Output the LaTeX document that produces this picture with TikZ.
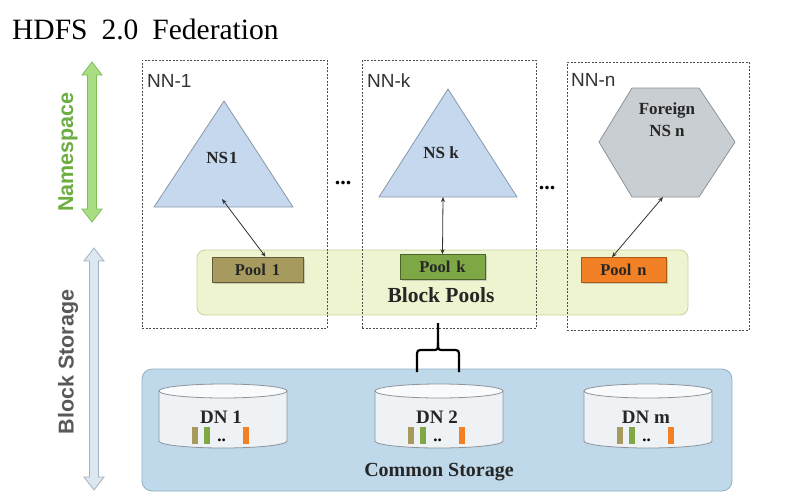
\documentclass[tikz,border=0pt]{standalone}
\usepackage{fontspec}
\setmainfont{Liberation Serif}
\setsansfont{Liberation Sans}
\usetikzlibrary{arrows.meta,shadows}

\definecolor{nsblue}{HTML}{C5D8EE}
\definecolor{nsedge}{HTML}{8797AA}
\definecolor{hexgray}{HTML}{C9CED3}
\definecolor{hexedge}{HTML}{8E9398}
\definecolor{poolbg}{HTML}{EEF4CF}
\definecolor{pooledge}{HTML}{C9D59E}
\definecolor{poolbrown}{HTML}{A69A5E}
\definecolor{poolgreen}{HTML}{7EA745}
\definecolor{poolorange}{HTML}{F28024}
\definecolor{storebg}{HTML}{BFD9EA}
\definecolor{storeedge}{HTML}{8FAFC4}
\definecolor{cylfill}{HTML}{EEF2F5}
\definecolor{cyledge}{HTML}{8D949B}
\definecolor{nsarrowfill}{HTML}{A9DE84}
\definecolor{nsarrowedge}{HTML}{7DBF58}
\definecolor{nstext}{HTML}{6DAE42}
\definecolor{bsarrowfill}{HTML}{DCE7F0}
\definecolor{bsarrowedge}{HTML}{A3B3C3}

\begin{document}
\begin{tikzpicture}[x=1pt,y=-1pt,
    nnbox/.style={draw=black!70, dash pattern=on 2pt off 1.5pt, line width=0.6pt},
    nnlabel/.style={font=\sffamily\fontsize{19}{20}\selectfont, text=black!80, anchor=base west, inner sep=0pt},
    nslabel/.style={font=\bfseries\fontsize{17}{19}\selectfont, text=black!85, align=center, inner sep=0pt},
    poolbox/.style={minimum width=88pt, minimum height=25pt, inner sep=0pt, line width=0.6pt, drop shadow={shadow xshift=1.5pt, shadow yshift=-1.5pt, opacity=0.35},
      font=\bfseries\fontsize{16.5}{17}\selectfont, text=black!85},
    nsarrow/.style={{Stealth[length=5pt,width=4pt]}-{Stealth[length=5pt,width=4pt]}, line width=0.8pt, draw=black!80},
    dots/.style={font=\bfseries\fontsize{22}{22}\selectfont, inner sep=0pt},
    sidelabel/.style={font=\sffamily\bfseries\fontsize{21.5}{22}\selectfont, rotate=90, inner sep=0pt}]

  \useasboundingbox[fill=white] (0,0) rectangle (796,499);

  % title
  \node[anchor=base west, inner sep=0pt, font=\fontsize{29.5}{30}\selectfont] (title) at (12,39) {HDFS\hspace{14pt}2.0\hspace{14pt}Federation};

  % side arrows
  \draw[fill=nsarrowfill, draw=nsarrowedge, line width=0.8pt] (92,62) -- (102,75) -- (96.5,75) -- (96.5,209) -- (102,209) -- (92,222) -- (82,209) -- (87.5,209) -- (87.5,75) -- (82,75) -- cycle;
  \node[sidelabel, text=nstext] (nslbl) at (68,152) {Namespace};
  \draw[fill=bsarrowfill, draw=bsarrowedge, line width=0.8pt] (94,248) -- (104,261) -- (98.5,261) -- (98.5,477) -- (104,477) -- (94,490) -- (84,477) -- (89.5,477) -- (89.5,261) -- (84,261) -- cycle;
  \node[sidelabel, text=black!65] (bslbl) at (68,362) {Block Storage};

  % block pools
  \node[fill=poolbg, draw=pooledge, rounded corners=8pt, line width=0.8pt, minimum width=491pt, minimum height=65pt] (pools) at (442.5,282.5) {};
  \node[font=\bfseries\fontsize{21.5}{22}\selectfont, anchor=base, inner sep=0pt, text=black!85] (poolslbl) at (441,302) {Block Pools};
  \node[poolbox, fill=poolbrown, draw=poolbrown!60!black, minimum width=91pt] (pool1) at (257.5,269.5) {Pool\hspace{6pt}1};
  \node[poolbox, fill=poolgreen, draw=poolgreen!60!black, minimum width=85pt] (poolk) at (442.5,267) {Pool\hspace{6pt}k};
  \node[poolbox, fill=poolorange, draw=poolorange!70!black, minimum width=85pt] (pooln) at (623.5,270) {Pool\hspace{6pt}n};

  % namenodes
  \node[nnbox, anchor=north west, minimum width=185pt, minimum height=268pt] (nn1) at (142,60) {};
  \node[nnbox, anchor=north west, minimum width=174pt, minimum height=268pt] (nnk) at (362,60) {};
  \node[nnbox, anchor=north west, minimum width=182pt, minimum height=268pt] (nnn) at (567,62) {};
  \node[nnlabel] (nn1lbl) at (147,87) {NN-1};
  \node[nnlabel] (nnklbl) at (367,87) {NN-k};
  \node[nnlabel] (nnnlbl) at (571,86) {NN-n};
  \node[dots] (dots1) at (343,183) {...};
  \node[dots] (dots2) at (547,188) {...};

  % namespaces
  \draw[fill=nsblue, draw=nsedge, line width=0.8pt] (224,101) -- (293,207) -- (154,207) -- cycle;
  \draw[fill=nsblue, draw=nsedge, line width=0.8pt] (448,89) -- (517,197) -- (379,197) -- cycle;
  \draw[fill=hexgray, draw=hexedge, line width=0.8pt] (632,88) -- (699,88) -- (735,142) -- (699,197) -- (632,197) -- (599,142) -- cycle;
  \node[nslabel, anchor=base] (ns1) at (222,163) {NS\hspace{1pt}1};
  \node[nslabel, anchor=base] (nsk) at (441,158) {NS k};
  \node[nslabel, anchor=base] (nsn) at (667,136) {Foreign\\[3pt]NS n};
  \coordinate (ns1foot) at (222,199);
  \coordinate (nskfoot) at (443,197);
  \coordinate (nsnfoot) at (663,197);
  \draw[nsarrow] (ns1foot) -- ([xshift=8pt]pool1.north);
  \draw[nsarrow] (nskfoot) -- (poolk.north);
  \draw[nsarrow] (nsnfoot) -- ([xshift=-11.5pt]pooln.north);

  % common storage
  \node[fill=storebg, draw=storeedge, rounded corners=10pt, line width=0.8pt, minimum width=590pt, minimum height=122pt] (store) at (437,430) {};
  \node[font=\bfseries\fontsize{20}{21}\selectfont, anchor=base, inner sep=0pt, text=black!85] (storelbl) at (439,476) {Common Storage};

  % brace
  \draw[line width=2.2pt] (417,372) -- (417,357) .. controls (417,350) .. (424,350) -- (432,350) .. controls (438,350) .. (438,343) -- (438,323);
  \draw[line width=2.2pt] (459,372) -- (459,357) .. controls (459,350) .. (452,350) -- (444,350) .. controls (438,350) .. (438,343);

  % datanodes
  \foreach \cx/\name/\lbl in {223/dn1/DN 1, 439/dn2/DN 2, 648/dnm/DN m} {
    \draw[fill=cylfill, draw=cyledge, line width=0.8pt] (\cx-64,391) -- (\cx-64,441) arc[start angle=180, end angle=360, x radius=64pt, y radius=7pt] -- (\cx+64,391) -- cycle;
    \draw[fill=white!60!cylfill, draw=cyledge, line width=0.8pt] (\cx,391) ellipse [x radius=64pt, y radius=7pt];
    \node[font=\bfseries\fontsize{19}{19}\selectfont, anchor=base, inner sep=0pt, text=black!85] (\name) at (\cx-2,423) {\lbl};
    \fill[poolbrown] (\cx-31,427) rectangle (\cx-25,444);
    \fill[poolgreen] (\cx-19,427) rectangle (\cx-13,444);
    \fill[poolorange] (\cx+20,427) rectangle (\cx+26,444);
    \node[font=\bfseries\fontsize{17}{17}\selectfont, anchor=base, inner sep=0pt] (\name dots) at (\cx-1.5,441) {..};
  }

\end{tikzpicture}
\end{document}
